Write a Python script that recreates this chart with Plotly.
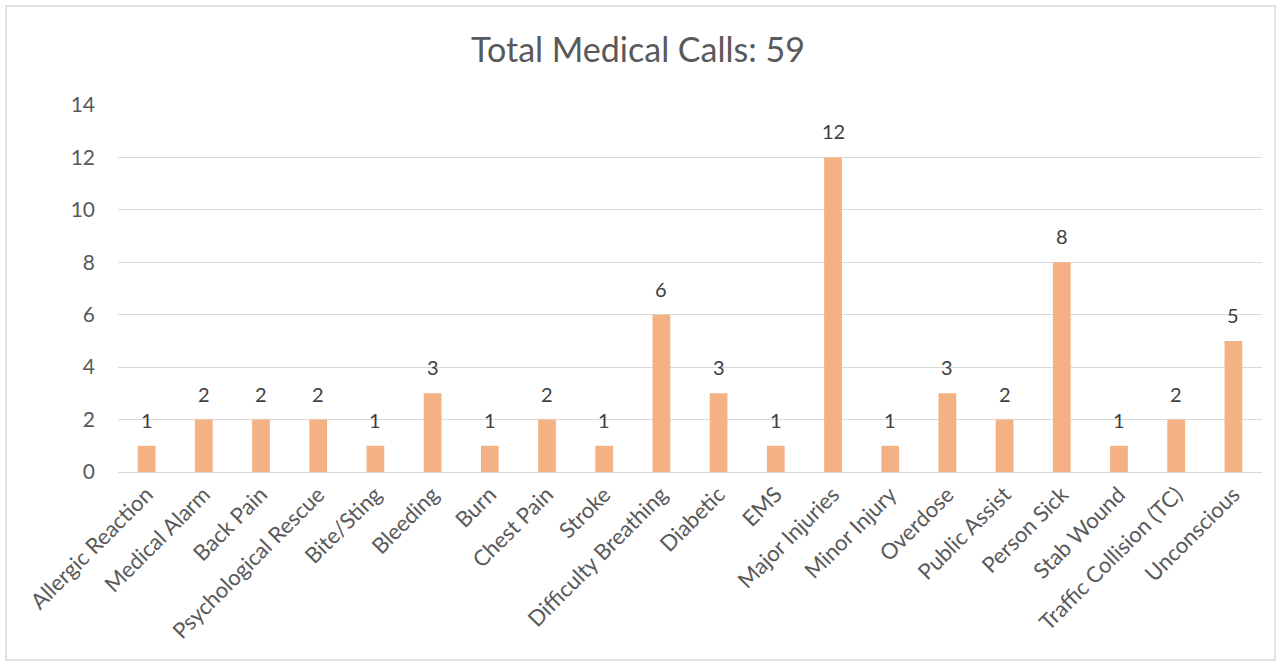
import plotly.graph_objects as go

categories = ["Allergic Reaction", "Medical Alarm", "Back Pain", "Psychological Rescue",
              "Bite/Sting", "Bleeding", "Burn", "Chest Pain", "Stroke",
              "Difficulty Breathing", "Diabetic", "EMS", "Major Injuries", "Minor Injury",
              "Overdose", "Public Assist", "Person Sick", "Stab Wound",
              "Traffic Collision (TC)", "Unconscious"]
values = [1, 2, 2, 2, 1, 3, 1, 2, 1, 6, 3, 1, 12, 1, 3, 2, 8, 1, 2, 5]
y_ticks = [0, 2, 4, 6, 8, 10, 12, 14]

FONT = "Lato, Calibri, 'Liberation Sans', sans-serif"
GREY = "#595959"

fig = go.Figure(go.Bar(
    x=categories, y=values,
    marker=dict(color="#F4B183", line=dict(width=0)),
    hoverinfo="x+y",
))

annotations = [dict(x=c, y=v, xref="x", yref="y", text=str(v), showarrow=False,
                    yanchor="bottom", yshift=12,
                    font=dict(size=20, color="#404040", family=FONT))
               for c, v in zip(categories, values)]

fig.update_layout(
    width=1276, height=667,
    paper_bgcolor="white", plot_bgcolor="white",
    margin=dict(l=118, r=14, t=105, b=195),
    bargap=0.69,
    title=dict(text="Total Medical Calls: 59", x=0.5, xanchor="center",
               y=1 - 50/667, yanchor="middle",
               font=dict(size=34, color=GREY, family=FONT)),
    showlegend=False,
    annotations=annotations,
    xaxis=dict(tickangle=-45, tickfont=dict(size=22, color=GREY, family=FONT),
               showline=True, linecolor="#D9D9D9", linewidth=1, ticks="",
               showgrid=False),
    yaxis=dict(range=[0, 14], tickvals=y_ticks, ticktext=[str(v) for v in y_ticks],
               tickfont=dict(size=21, color=GREY, family=FONT),
               showgrid=True, gridcolor="#D9D9D9", gridwidth=1,
               zeroline=False, showline=False, ticks="", ticklabelstandoff=22),
    shapes=[dict(type="rect", xref="paper", yref="paper",
                 x0=-112/1144, x1=1275/1144 - 118/1144, y0=-(660-472)/367, y1=(472-6)/367,
                 line=dict(color="#D9D9D9", width=1.5), fillcolor="rgba(0,0,0,0)")],
)

fig.write_html("out.html", config={"displayModeBar": False},
               post_script="document.body.style.margin='0px';")
